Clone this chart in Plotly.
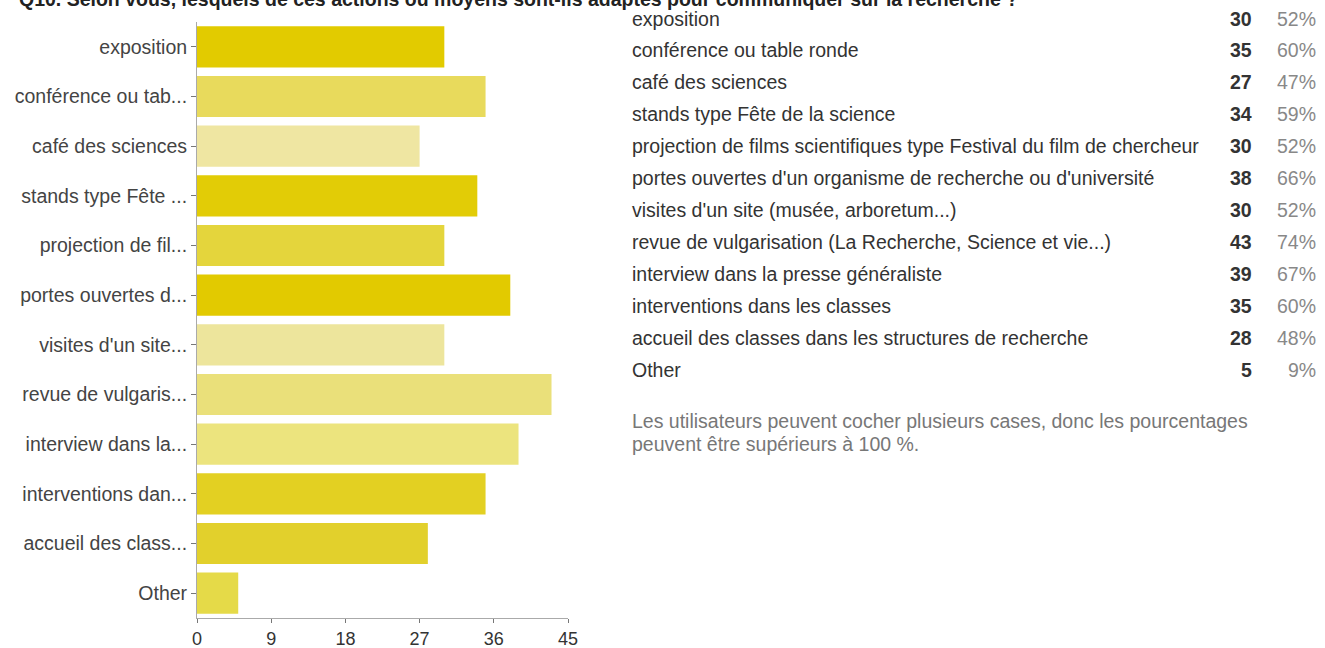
import plotly.graph_objects as go

W, H = 1325, 648

short_labels = ["exposition", "conférence ou tab...", "café des sciences", "stands type Fête ...",
                "projection de fil...", "portes ouvertes d...", "visites d'un site...",
                "revue de vulgaris...", "interview dans la...", "interventions dan...",
                "accueil des class...", "Other"]
full_labels = ["exposition", "conférence ou table ronde", "café des sciences",
               "stands type Fête de la science",
               "projection de films scientifiques type Festival du film de chercheur",
               "portes ouvertes d'un organisme de recherche ou d'université",
               "visites d'un site (musée, arboretum...)",
               "revue de vulgarisation (La Recherche, Science et vie...)",
               "interview dans la presse généraliste", "interventions dans les classes",
               "accueil des classes dans les structures de recherche", "Other"]
counts = [30, 35, 27, 34, 30, 38, 30, 43, 39, 35, 28, 5]
percents = ["52%", "60%", "47%", "59%", "52%", "66%", "52%", "74%", "67%", "60%", "48%", "9%"]
bar_colors = ["#e2cb00", "#e8da5c", "#efe6a2", "#e2cc06", "#e4d53c", "#e2ca00",
              "#ede59c", "#eae07a", "#ece47e", "#e3d022", "#e2d02c", "#e5da48"]
x_ticks = [0, 9, 18, 27, 36, 45]

title = "Q10. Selon vous, lesquels de ces actions ou moyens sont-ils adaptés pour communiquer sur la recherche ?"
note_lines = ["Les utilisateurs peuvent cocher plusieurs cases, donc les pourcentages",
              "peuvent être supérieurs à 100 %."]

FONT = "Liberation Sans, Arial, sans-serif"
FS = 19.5

fig = go.Figure(go.Bar(
    x=counts, y=short_labels, orientation="h",
    marker=dict(color=bar_colors, line=dict(width=0)),
    hoverinfo="x+y",
))

def px(x):
    return x / W

def py(y):
    return 1 - y / H

fig.update_layout(
    width=W, height=H,
    margin=dict(l=0, r=0, t=0, b=0),
    paper_bgcolor="white", plot_bgcolor="white",
    showlegend=False,
    bargap=0.17,
    font=dict(family=FONT, size=FS, color="#333"),
    xaxis=dict(domain=[px(197), px(568)], range=[0, 45], tickvals=x_ticks,
               showgrid=False, zeroline=False, showline=True, linecolor="#aaa", linewidth=1,
               ticks="outside", ticklen=4, tickcolor="#777", automargin=False,
               tickfont=dict(size=18, color="#333")),
    yaxis=dict(domain=[py(618), py(22)], autorange="reversed", categoryorder="array",
               categoryarray=short_labels,
               showgrid=False, zeroline=False, showline=True, linecolor="#aaa", linewidth=1,
               ticks="outside", ticklen=5, tickcolor="#777", automargin=False,
               tickfont=dict(size=FS, color="#444")),
)

ann = []
ann.append(dict(x=px(17), y=py(-1), xref="paper", yref="paper", xanchor="left", yanchor="middle",
                text="<b>" + title + "</b>", showarrow=False,
                font=dict(family=FONT, size=FS, color="#222")))
row0, pitch = 18.6, 31.9
for i, (lab, c, p) in enumerate(zip(full_labels, counts, percents)):
    yy = py(row0 + i * pitch)
    ann.append(dict(x=px(630), y=yy, xref="paper", yref="paper", xanchor="left", yanchor="middle",
                    text=lab, showarrow=False, font=dict(family=FONT, size=FS, color="#333")))
    ann.append(dict(x=px(1254), y=yy, xref="paper", yref="paper", xanchor="right", yanchor="middle",
                    text="<b>" + str(c) + "</b>", showarrow=False,
                    font=dict(family=FONT, size=FS, color="#333")))
    ann.append(dict(x=px(1318), y=yy, xref="paper", yref="paper", xanchor="right", yanchor="middle",
                    text=p, showarrow=False, font=dict(family=FONT, size=FS, color="#888")))
for j, line in enumerate(note_lines):
    ann.append(dict(x=px(630), y=py(421 + j * 23), xref="paper", yref="paper",
                    xanchor="left", yanchor="middle", text=line, showarrow=False,
                    font=dict(family=FONT, size=FS, color="#777")))
fig.update_layout(annotations=ann)

fig.write_html("out.html", config={"displayModeBar": False},
               post_script="document.body.style.margin='0';document.body.style.overflow='hidden';")
